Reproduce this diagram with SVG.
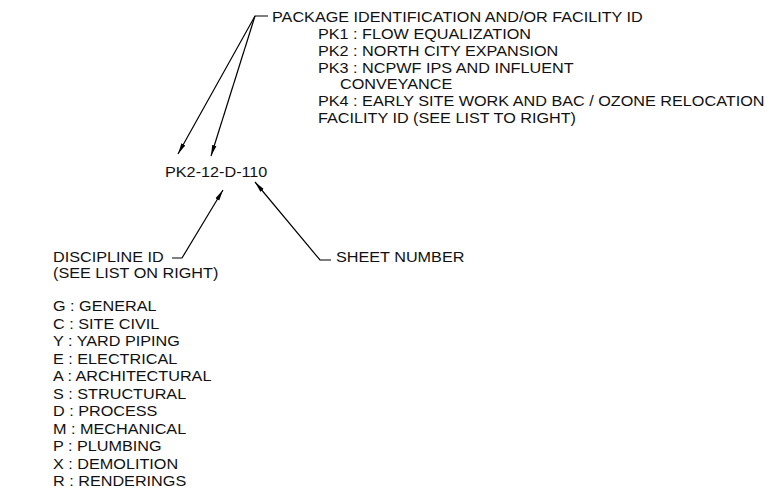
<svg xmlns="http://www.w3.org/2000/svg" width="769" height="491" viewBox="0 0 769 491">
<defs>
<marker id="ah" markerWidth="12" markerHeight="6" refX="11" refY="3" orient="auto" markerUnits="userSpaceOnUse">
<path d="M0,0.8 L11,3 L0,5.2 Z" fill="#000"/>
</marker>
<style>
text{font-family:"Liberation Sans",Arial,sans-serif;font-size:15px;fill:#111}
.ln{fill:none;stroke:#000;stroke-width:1.2}
</style>
</defs>
<rect width="769" height="491" fill="#fff"/>
<g id="connectors">
<path class="ln" d="M268,16 L255,16 L178,154" marker-end="url(#ah)"/>
<path class="ln" d="M255,16 L211,156" marker-end="url(#ah)"/>
<path class="ln" d="M172,258 L182,258 L223,190" marker-end="url(#ah)"/>
<path class="ln" d="M331,260 L320,260 L255,182" marker-end="url(#ah)"/>
</g>
<g id="code" transform="scale(1.08 1)"><text x="152.8" y="177">PK2-12-D-110</text></g>
<g id="package" transform="scale(1.08 1)">
<text x="251.85" y="22.5">PACKAGE IDENTIFICATION AND/OR FACILITY ID</text>
<text x="294.44" y="39">PK1 : FLOW EQUALIZATION</text>
<text x="294.44" y="56">PK2 : NORTH CITY EXPANSION</text>
<text x="294.44" y="73">PK3 : NCPWF IPS AND INFLUENT</text>
<text x="314.81" y="89.5">CONVEYANCE</text>
<text x="294.44" y="106.5">PK4 : EARLY SITE WORK AND BAC / OZONE RELOCATION</text>
<text x="294.44" y="123.5">FACILITY ID (SEE LIST TO RIGHT)</text>
</g>
<g id="discipline" transform="scale(1.08 1)">
<text x="49.07" y="262.5">DISCIPLINE ID</text>
<text x="49.07" y="278.5">(SEE LIST ON RIGHT)</text>
<text x="49.07" y="311.5">G : GENERAL</text>
<text x="49.07" y="329">C : SITE CIVIL</text>
<text x="49.07" y="346.5">Y : YARD PIPING</text>
<text x="49.07" y="364">E : ELECTRICAL</text>
<text x="49.07" y="381.5">A : ARCHITECTURAL</text>
<text x="49.07" y="399">S : STRUCTURAL</text>
<text x="49.07" y="416.5">D : PROCESS</text>
<text x="49.07" y="434">M : MECHANICAL</text>
<text x="49.07" y="451.5">P : PLUMBING</text>
<text x="49.07" y="469">X : DEMOLITION</text>
<text x="49.07" y="486.5">R : RENDERINGS</text>
</g>
<g id="sheet" transform="scale(1.08 1)"><text x="311.11" y="262.5">SHEET NUMBER</text></g>
</svg>
